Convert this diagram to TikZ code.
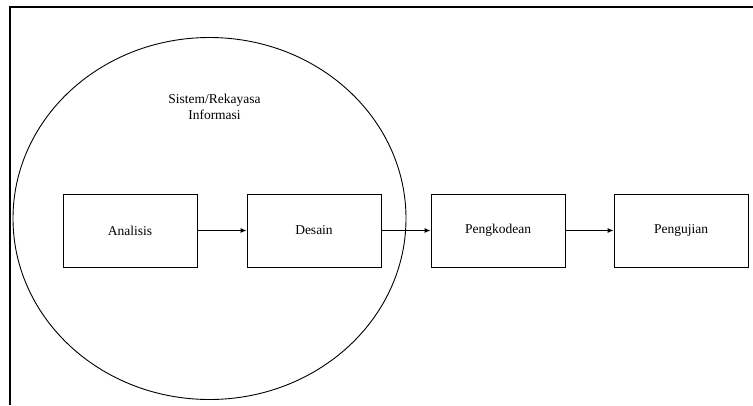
\documentclass[tikz,border=0pt]{standalone}
\usepackage{fontspec}
\setmainfont{Liberation Serif}
\usetikzlibrary{arrows.meta}
\begin{document}
\begin{tikzpicture}[x=1pt,y=-1pt,
  stagebox/.style={draw, line width=0.9pt, minimum width=134pt, minimum height=73pt,
    inner sep=0pt, font=\fontsize{13.5}{15.5}\selectfont},
  flow/.style={-{Latex[length=6pt,width=5pt]}, line width=0.9pt},
  frame/.style={line width=2pt},
  group/.style={line width=0.9pt}]
\useasboundingbox (0,0) rectangle (753,405);

% page frame (top and left edges)
\coordinate (fbl) at (10,405);
\coordinate (ftl) at (10,7);
\coordinate (ftr) at (753,7);
\draw[frame] (fbl) -- (ftl) -- (ftr);

% grouping ellipse around the first two stages
\draw[group] (209.5,218.5) ellipse [x radius=196.5pt, y radius=181pt];
\node[font=\fontsize{13.5}{15.5}\selectfont, align=center] (grp) at (214.5,107)
  {Sistem/Rekayasa\\Informasi};

% stages
\node[stagebox] (ana) at (130,230.5) {Analisis};
\node[stagebox] (des) at (314,230.5) {Desain};
\node[stagebox] (kod) at (498,230.5) {Pengkodean};
\node[stagebox] (uji) at (681,230.5) {Pengujian};

\draw[flow] (ana) -- (des);
\draw[flow] (des) -- (kod);
\draw[flow] (kod) -- (uji);
\end{tikzpicture}
\end{document}
